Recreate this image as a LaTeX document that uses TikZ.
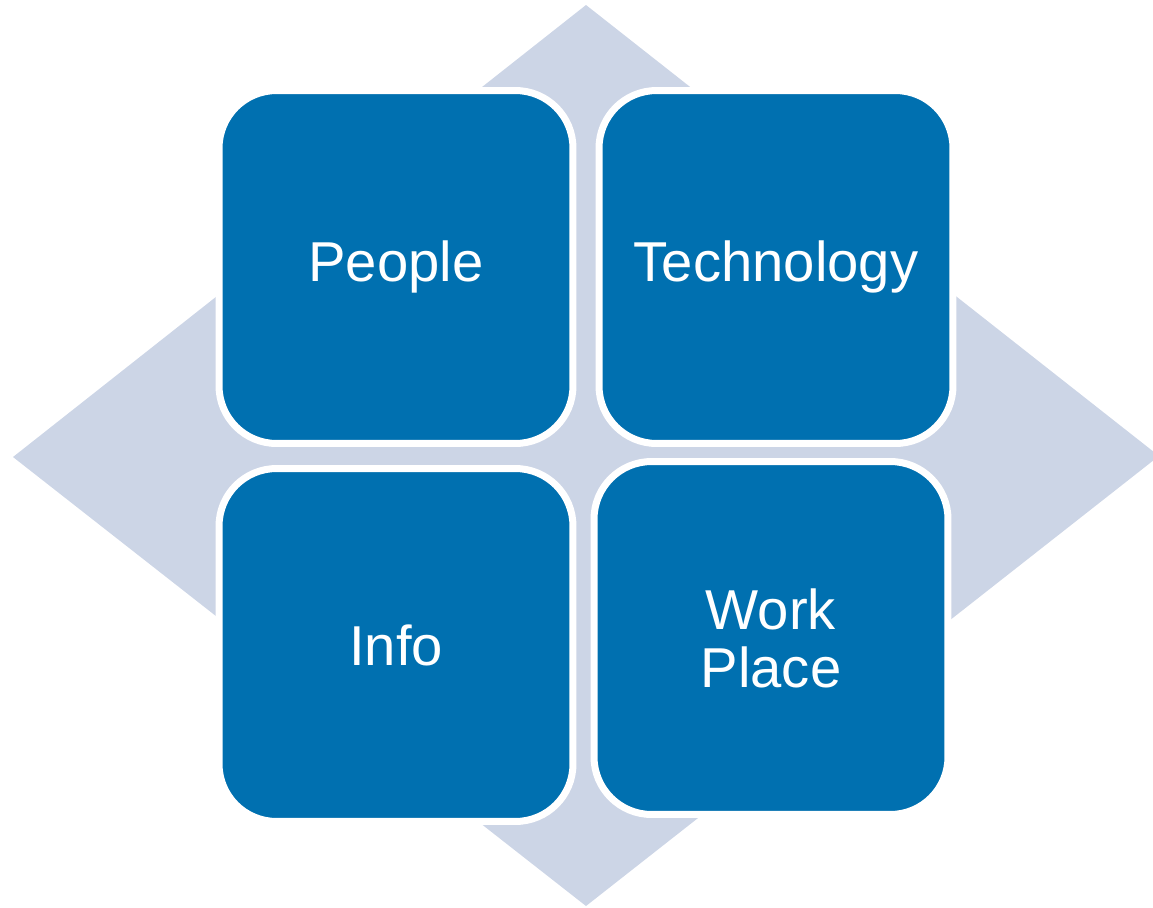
\documentclass[tikz,border=0pt]{standalone}
\usepackage{fontspec}
\setmainfont{Liberation Sans}
\usetikzlibrary{positioning}

\definecolor{tileblue}{RGB}{0,112,176}
\definecolor{backgrey}{RGB}{204,213,230}

\begin{document}
\begin{tikzpicture}[x=0.02cm, y=-0.02cm]
			\tikzset {tile/.style={draw=white, line width=0.14cm, fill=tileblue, rounded corners=1.15cm, minimum width=7.08cm, minimum height=7.06cm, text=white, align=center, font=\fontsize{32}{33}\selectfont}}
			
			\useasboundingbox (0,0) rectangle (1153,907);
			\fill[backgrey] (586,5) -- (1159,456) -- (586,906) -- (13,457) -- cycle;
			
			\node[tile] (people) at (396,267) {People};
			\node[tile] (tech) at (776,267) {Technology};
			\node[tile] (info) at (396,645) {Info};
			\node[tile] (work) at (771,638) {Work\\Place};
		\end{tikzpicture}
\end{document}
